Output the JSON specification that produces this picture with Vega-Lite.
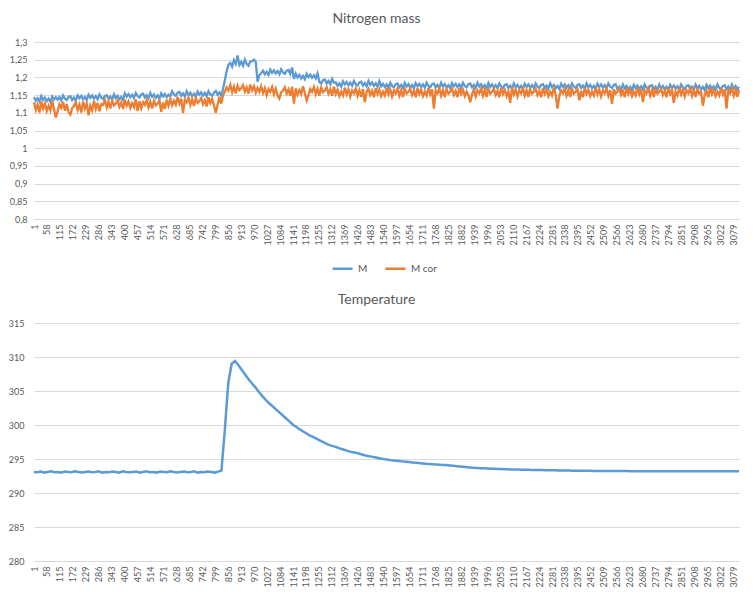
{
"$schema": "https://vega.github.io/schema/vega-lite/v6.json",
"padding": {"top": 12, "left": 4, "right": 10, "bottom": 4},
"background": "white",
"spacing": 48,
"config": {
  "font": "Lato",
  "view": {"stroke": null},
  "axis": {"labelFont": "Lato", "labelColor": "#595959", "labelFontSize": 9, "gridColor": "#D9D9D9", "gridWidth": 1, "ticks": false, "title": null},
  "title": {"font": "Lato", "fontSize": 14, "fontWeight": "normal", "color": "#595959", "offset": 12, "anchor": "middle", "dx": -10}
},
"datasets": {
"m": [
{"x":1,"M":1.145,"M cor":1.130},{"x":9,"M":1.134,"M cor":1.108},{"x":17,"M":1.141,"M cor":1.123},{"x":25,"M":1.132,"M cor":1.101},{"x":33,"M":1.147,"M cor":1.132},
{"x":41,"M":1.136,"M cor":1.112},{"x":49,"M":1.143,"M cor":1.126},{"x":57,"M":1.133,"M cor":1.105},{"x":65,"M":1.140,"M cor":1.120},{"x":73,"M":1.131,"M cor":1.107},
{"x":81,"M":1.146,"M cor":1.134},{"x":89,"M":1.137,"M cor":1.111},{"x":97,"M":1.144,"M cor":1.087},{"x":105,"M":1.137,"M cor":1.104},{"x":113,"M":1.144,"M cor":1.124},
{"x":121,"M":1.135,"M cor":1.114},{"x":129,"M":1.149,"M cor":1.131},{"x":137,"M":1.140,"M cor":1.106},{"x":145,"M":1.136,"M cor":1.125},{"x":153,"M":1.145,"M cor":1.102},
{"x":161,"M":1.147,"M cor":1.095},{"x":169,"M":1.136,"M cor":1.113},{"x":177,"M":1.143,"M cor":1.119},{"x":185,"M":1.134,"M cor":1.130},{"x":193,"M":1.149,"M cor":1.108},
{"x":201,"M":1.141,"M cor":1.123},{"x":209,"M":1.148,"M cor":1.101},{"x":217,"M":1.138,"M cor":1.132},{"x":225,"M":1.145,"M cor":1.112},{"x":233,"M":1.136,"M cor":1.126},
{"x":241,"M":1.151,"M cor":1.093},{"x":249,"M":1.142,"M cor":1.120},{"x":257,"M":1.149,"M cor":1.107},{"x":265,"M":1.140,"M cor":1.134},{"x":273,"M":1.147,"M cor":1.111},
{"x":281,"M":1.138,"M cor":1.128},{"x":289,"M":1.152,"M cor":1.104},{"x":297,"M":1.143,"M cor":1.124},{"x":305,"M":1.139,"M cor":1.122},{"x":313,"M":1.148,"M cor":1.136},
{"x":321,"M":1.150,"M cor":1.115},{"x":329,"M":1.139,"M cor":1.131},{"x":337,"M":1.146,"M cor":1.112},{"x":345,"M":1.137,"M cor":1.134},{"x":353,"M":1.152,"M cor":1.121},
{"x":361,"M":1.141,"M cor":1.126},{"x":369,"M":1.148,"M cor":1.135},{"x":377,"M":1.138,"M cor":1.117},{"x":385,"M":1.145,"M cor":1.129},{"x":393,"M":1.136,"M cor":1.111},
{"x":401,"M":1.155,"M cor":1.137},{"x":409,"M":1.146,"M cor":1.120},{"x":417,"M":1.153,"M cor":1.132},{"x":425,"M":1.144,"M cor":1.114},{"x":433,"M":1.151,"M cor":1.127},
{"x":441,"M":1.142,"M cor":1.116},{"x":449,"M":1.156,"M cor":1.138},{"x":457,"M":1.147,"M cor":1.105},{"x":465,"M":1.143,"M cor":1.133},{"x":473,"M":1.152,"M cor":1.113},
{"x":481,"M":1.154,"M cor":1.130},{"x":489,"M":1.143,"M cor":1.122},{"x":497,"M":1.150,"M cor":1.136},{"x":505,"M":1.141,"M cor":1.115},{"x":513,"M":1.156,"M cor":1.131},
{"x":521,"M":1.145,"M cor":1.112},{"x":529,"M":1.152,"M cor":1.134},{"x":537,"M":1.142,"M cor":1.121},{"x":545,"M":1.149,"M cor":1.126},{"x":553,"M":1.140,"M cor":1.135},
{"x":561,"M":1.155,"M cor":1.103},{"x":569,"M":1.146,"M cor":1.129},{"x":577,"M":1.153,"M cor":1.111},{"x":585,"M":1.144,"M cor":1.137},{"x":593,"M":1.151,"M cor":1.120},
{"x":601,"M":1.147,"M cor":1.139},{"x":609,"M":1.161,"M cor":1.121},{"x":617,"M":1.152,"M cor":1.134},{"x":625,"M":1.148,"M cor":1.123},{"x":633,"M":1.157,"M cor":1.145},
{"x":641,"M":1.159,"M cor":1.126},{"x":649,"M":1.148,"M cor":1.140},{"x":657,"M":1.155,"M cor":1.100},{"x":665,"M":1.146,"M cor":1.137},{"x":673,"M":1.161,"M cor":1.129},
{"x":681,"M":1.150,"M cor":1.143},{"x":689,"M":1.157,"M cor":1.122},{"x":697,"M":1.147,"M cor":1.138},{"x":705,"M":1.154,"M cor":1.119},{"x":713,"M":1.145,"M cor":1.141},
{"x":721,"M":1.160,"M cor":1.128},{"x":729,"M":1.151,"M cor":1.133},{"x":737,"M":1.158,"M cor":1.142},{"x":745,"M":1.149,"M cor":1.124},{"x":753,"M":1.156,"M cor":1.136},
{"x":761,"M":1.147,"M cor":1.118},{"x":769,"M":1.161,"M cor":1.144},{"x":777,"M":1.152,"M cor":1.127},{"x":785,"M":1.148,"M cor":1.139},{"x":793,"M":1.157,"M cor":1.121},
{"x":801,"M":1.162,"M cor":1.100},{"x":809,"M":1.151,"M cor":1.123},{"x":817,"M":1.158,"M cor":1.145},{"x":825,"M":1.149,"M cor":1.126},{"x":833,"M":1.168,"M cor":1.148},
{"x":841,"M":1.192,"M cor":1.160},{"x":849,"M":1.218,"M cor":1.172},{"x":857,"M":1.236,"M cor":1.163},{"x":865,"M":1.241,"M cor":1.179},{"x":873,"M":1.230,"M cor":1.158},
{"x":881,"M":1.249,"M cor":1.174},{"x":889,"M":1.238,"M cor":1.155},{"x":897,"M":1.262,"M cor":1.177},{"x":905,"M":1.235,"M cor":1.164},{"x":913,"M":1.244,"M cor":1.169},
{"x":921,"M":1.233,"M cor":1.178},{"x":929,"M":1.250,"M cor":1.160},{"x":937,"M":1.238,"M cor":1.172},{"x":945,"M":1.233,"M cor":1.154},{"x":953,"M":1.245,"M cor":1.180},
{"x":961,"M":1.246,"M cor":1.163},{"x":969,"M":1.250,"M cor":1.175},{"x":977,"M":1.244,"M cor":1.157},{"x":985,"M":1.188,"M cor":1.170},{"x":993,"M":1.206,"M cor":1.159},
{"x":1001,"M":1.212,"M cor":1.175},{"x":1009,"M":1.219,"M cor":1.156},{"x":1017,"M":1.209,"M cor":1.170},{"x":1025,"M":1.216,"M cor":1.150},{"x":1033,"M":1.207,"M cor":1.167},
{"x":1041,"M":1.222,"M cor":1.159},{"x":1049,"M":1.213,"M cor":1.173},{"x":1057,"M":1.220,"M cor":1.152},{"x":1065,"M":1.211,"M cor":1.168},{"x":1073,"M":1.218,"M cor":1.149},
{"x":1081,"M":1.209,"M cor":1.140},{"x":1089,"M":1.223,"M cor":1.158},{"x":1097,"M":1.214,"M cor":1.163},{"x":1105,"M":1.210,"M cor":1.172},{"x":1113,"M":1.219,"M cor":1.154},
{"x":1121,"M":1.221,"M cor":1.166},{"x":1129,"M":1.210,"M cor":1.148},{"x":1137,"M":1.228,"M cor":1.174},{"x":1145,"M":1.196,"M cor":1.126},{"x":1153,"M":1.211,"M cor":1.169},
{"x":1161,"M":1.200,"M cor":1.151},{"x":1169,"M":1.207,"M cor":1.164},{"x":1177,"M":1.197,"M cor":1.153},{"x":1185,"M":1.204,"M cor":1.175},{"x":1193,"M":1.195,"M cor":1.156},
{"x":1201,"M":1.210,"M cor":1.135},{"x":1209,"M":1.201,"M cor":1.150},{"x":1217,"M":1.208,"M cor":1.167},{"x":1225,"M":1.199,"M cor":1.159},{"x":1233,"M":1.206,"M cor":1.173},
{"x":1241,"M":1.197,"M cor":1.152},{"x":1249,"M":1.211,"M cor":1.168},{"x":1257,"M":1.187,"M cor":1.149},{"x":1265,"M":1.183,"M cor":1.171},{"x":1273,"M":1.192,"M cor":1.158},
{"x":1281,"M":1.194,"M cor":1.163},{"x":1289,"M":1.183,"M cor":1.172},{"x":1297,"M":1.190,"M cor":1.154},{"x":1305,"M":1.181,"M cor":1.166},{"x":1313,"M":1.196,"M cor":1.148},
{"x":1321,"M":1.185,"M cor":1.174},{"x":1329,"M":1.186,"M cor":1.153},{"x":1337,"M":1.176,"M cor":1.165},{"x":1345,"M":1.183,"M cor":1.147},{"x":1353,"M":1.174,"M cor":1.160},
{"x":1361,"M":1.189,"M cor":1.149},{"x":1369,"M":1.180,"M cor":1.171},{"x":1377,"M":1.187,"M cor":1.152},{"x":1385,"M":1.178,"M cor":1.166},{"x":1393,"M":1.185,"M cor":1.146},
{"x":1401,"M":1.176,"M cor":1.163},{"x":1409,"M":1.190,"M cor":1.155},{"x":1417,"M":1.181,"M cor":1.169},{"x":1425,"M":1.177,"M cor":1.148},{"x":1433,"M":1.186,"M cor":1.164},
{"x":1441,"M":1.188,"M cor":1.145},{"x":1449,"M":1.177,"M cor":1.167},{"x":1457,"M":1.184,"M cor":1.130},{"x":1465,"M":1.175,"M cor":1.159},{"x":1473,"M":1.190,"M cor":1.168},
{"x":1481,"M":1.179,"M cor":1.150},{"x":1489,"M":1.186,"M cor":1.162},{"x":1497,"M":1.176,"M cor":1.144},{"x":1505,"M":1.183,"M cor":1.170},{"x":1513,"M":1.174,"M cor":1.153},
{"x":1521,"M":1.189,"M cor":1.165},{"x":1529,"M":1.175,"M cor":1.147},{"x":1537,"M":1.182,"M cor":1.160},{"x":1545,"M":1.173,"M cor":1.149},{"x":1553,"M":1.180,"M cor":1.171},
{"x":1561,"M":1.171,"M cor":1.152},{"x":1569,"M":1.185,"M cor":1.166},{"x":1577,"M":1.176,"M cor":1.146},{"x":1585,"M":1.172,"M cor":1.163},{"x":1593,"M":1.181,"M cor":1.155},
{"x":1601,"M":1.183,"M cor":1.169},{"x":1609,"M":1.172,"M cor":1.148},{"x":1617,"M":1.179,"M cor":1.164},{"x":1625,"M":1.170,"M cor":1.145},{"x":1633,"M":1.185,"M cor":1.167},
{"x":1641,"M":1.174,"M cor":1.154},{"x":1649,"M":1.181,"M cor":1.159},{"x":1657,"M":1.171,"M cor":1.168},{"x":1665,"M":1.178,"M cor":1.150},{"x":1673,"M":1.169,"M cor":1.162},
{"x":1681,"M":1.184,"M cor":1.144},{"x":1689,"M":1.175,"M cor":1.170},{"x":1697,"M":1.182,"M cor":1.153},{"x":1705,"M":1.173,"M cor":1.165},{"x":1713,"M":1.180,"M cor":1.147},
{"x":1721,"M":1.171,"M cor":1.160},{"x":1729,"M":1.185,"M cor":1.149},{"x":1737,"M":1.176,"M cor":1.171},{"x":1745,"M":1.172,"M cor":1.152},{"x":1753,"M":1.181,"M cor":1.166},
{"x":1761,"M":1.183,"M cor":1.112},{"x":1769,"M":1.172,"M cor":1.163},{"x":1777,"M":1.179,"M cor":1.155},{"x":1785,"M":1.170,"M cor":1.169},{"x":1793,"M":1.185,"M cor":1.148},
{"x":1801,"M":1.174,"M cor":1.164},{"x":1809,"M":1.181,"M cor":1.145},{"x":1817,"M":1.171,"M cor":1.167},{"x":1825,"M":1.178,"M cor":1.154},{"x":1833,"M":1.169,"M cor":1.159},
{"x":1841,"M":1.184,"M cor":1.168},{"x":1849,"M":1.175,"M cor":1.150},{"x":1857,"M":1.182,"M cor":1.162},{"x":1865,"M":1.173,"M cor":1.144},{"x":1873,"M":1.180,"M cor":1.170},
{"x":1881,"M":1.171,"M cor":1.153},{"x":1889,"M":1.185,"M cor":1.165},{"x":1897,"M":1.176,"M cor":1.147},{"x":1905,"M":1.172,"M cor":1.160},{"x":1913,"M":1.181,"M cor":1.149},
{"x":1921,"M":1.183,"M cor":1.130},{"x":1929,"M":1.172,"M cor":1.152},{"x":1937,"M":1.179,"M cor":1.166},{"x":1945,"M":1.170,"M cor":1.146},{"x":1953,"M":1.185,"M cor":1.163},
{"x":1961,"M":1.174,"M cor":1.155},{"x":1969,"M":1.181,"M cor":1.169},{"x":1977,"M":1.171,"M cor":1.148},{"x":1985,"M":1.178,"M cor":1.164},{"x":1993,"M":1.169,"M cor":1.145},
{"x":2001,"M":1.184,"M cor":1.167},{"x":2009,"M":1.173,"M cor":1.154},{"x":2017,"M":1.180,"M cor":1.159},{"x":2025,"M":1.171,"M cor":1.168},{"x":2033,"M":1.178,"M cor":1.150},
{"x":2041,"M":1.169,"M cor":1.162},{"x":2049,"M":1.183,"M cor":1.144},{"x":2057,"M":1.174,"M cor":1.170},{"x":2065,"M":1.170,"M cor":1.153},{"x":2073,"M":1.179,"M cor":1.165},
{"x":2081,"M":1.181,"M cor":1.147},{"x":2089,"M":1.170,"M cor":1.160},{"x":2097,"M":1.177,"M cor":1.128},{"x":2105,"M":1.168,"M cor":1.171},{"x":2113,"M":1.183,"M cor":1.152},
{"x":2121,"M":1.172,"M cor":1.166},{"x":2129,"M":1.179,"M cor":1.146},{"x":2137,"M":1.169,"M cor":1.163},{"x":2145,"M":1.176,"M cor":1.155},{"x":2153,"M":1.167,"M cor":1.169},
{"x":2161,"M":1.182,"M cor":1.148},{"x":2169,"M":1.173,"M cor":1.164},{"x":2177,"M":1.180,"M cor":1.145},{"x":2185,"M":1.171,"M cor":1.167},{"x":2193,"M":1.178,"M cor":1.154},
{"x":2201,"M":1.169,"M cor":1.159},{"x":2209,"M":1.183,"M cor":1.168},{"x":2217,"M":1.174,"M cor":1.150},{"x":2225,"M":1.170,"M cor":1.162},{"x":2233,"M":1.179,"M cor":1.144},
{"x":2241,"M":1.181,"M cor":1.170},{"x":2249,"M":1.170,"M cor":1.153},{"x":2257,"M":1.177,"M cor":1.165},{"x":2265,"M":1.168,"M cor":1.147},{"x":2273,"M":1.183,"M cor":1.160},
{"x":2281,"M":1.172,"M cor":1.149},{"x":2289,"M":1.179,"M cor":1.171},{"x":2297,"M":1.169,"M cor":1.152},{"x":2305,"M":1.176,"M cor":1.112},{"x":2313,"M":1.167,"M cor":1.146},
{"x":2321,"M":1.182,"M cor":1.163},{"x":2329,"M":1.173,"M cor":1.155},{"x":2337,"M":1.180,"M cor":1.169},{"x":2345,"M":1.171,"M cor":1.148},{"x":2353,"M":1.178,"M cor":1.164},
{"x":2361,"M":1.169,"M cor":1.145},{"x":2369,"M":1.183,"M cor":1.167},{"x":2377,"M":1.174,"M cor":1.154},{"x":2385,"M":1.170,"M cor":1.159},{"x":2393,"M":1.179,"M cor":1.168},
{"x":2401,"M":1.181,"M cor":1.135},{"x":2409,"M":1.170,"M cor":1.162},{"x":2417,"M":1.177,"M cor":1.144},{"x":2425,"M":1.168,"M cor":1.170},{"x":2433,"M":1.183,"M cor":1.153},
{"x":2441,"M":1.172,"M cor":1.165},{"x":2449,"M":1.179,"M cor":1.147},{"x":2457,"M":1.169,"M cor":1.160},{"x":2465,"M":1.176,"M cor":1.149},{"x":2473,"M":1.167,"M cor":1.171},
{"x":2481,"M":1.182,"M cor":1.152},{"x":2489,"M":1.173,"M cor":1.166},{"x":2497,"M":1.180,"M cor":1.146},{"x":2505,"M":1.171,"M cor":1.163},{"x":2513,"M":1.178,"M cor":1.155},
{"x":2521,"M":1.169,"M cor":1.169},{"x":2529,"M":1.183,"M cor":1.148},{"x":2537,"M":1.174,"M cor":1.164},{"x":2545,"M":1.170,"M cor":1.125},{"x":2553,"M":1.179,"M cor":1.167},
{"x":2561,"M":1.181,"M cor":1.154},{"x":2569,"M":1.167,"M cor":1.159},{"x":2577,"M":1.174,"M cor":1.168},{"x":2585,"M":1.165,"M cor":1.150},{"x":2593,"M":1.180,"M cor":1.162},
{"x":2601,"M":1.169,"M cor":1.144},{"x":2609,"M":1.176,"M cor":1.170},{"x":2617,"M":1.166,"M cor":1.153},{"x":2625,"M":1.173,"M cor":1.165},{"x":2633,"M":1.164,"M cor":1.147},
{"x":2641,"M":1.179,"M cor":1.160},{"x":2649,"M":1.170,"M cor":1.149},{"x":2657,"M":1.177,"M cor":1.171},{"x":2665,"M":1.168,"M cor":1.152},{"x":2673,"M":1.175,"M cor":1.166},
{"x":2681,"M":1.166,"M cor":1.130},{"x":2689,"M":1.180,"M cor":1.163},{"x":2697,"M":1.171,"M cor":1.155},{"x":2705,"M":1.167,"M cor":1.169},{"x":2713,"M":1.176,"M cor":1.148},
{"x":2721,"M":1.178,"M cor":1.164},{"x":2729,"M":1.167,"M cor":1.145},{"x":2737,"M":1.174,"M cor":1.167},{"x":2745,"M":1.165,"M cor":1.154},{"x":2753,"M":1.180,"M cor":1.159},
{"x":2761,"M":1.169,"M cor":1.168},{"x":2769,"M":1.176,"M cor":1.150},{"x":2777,"M":1.166,"M cor":1.162},{"x":2785,"M":1.173,"M cor":1.144},{"x":2793,"M":1.164,"M cor":1.170},
{"x":2801,"M":1.179,"M cor":1.153},{"x":2809,"M":1.170,"M cor":1.165},{"x":2817,"M":1.177,"M cor":1.128},{"x":2825,"M":1.168,"M cor":1.160},{"x":2833,"M":1.175,"M cor":1.149},
{"x":2841,"M":1.166,"M cor":1.171},{"x":2849,"M":1.180,"M cor":1.152},{"x":2857,"M":1.171,"M cor":1.166},{"x":2865,"M":1.167,"M cor":1.146},{"x":2873,"M":1.176,"M cor":1.163},
{"x":2881,"M":1.178,"M cor":1.155},{"x":2889,"M":1.167,"M cor":1.169},{"x":2897,"M":1.174,"M cor":1.148},{"x":2905,"M":1.165,"M cor":1.164},{"x":2913,"M":1.180,"M cor":1.145},
{"x":2921,"M":1.169,"M cor":1.167},{"x":2929,"M":1.176,"M cor":1.154},{"x":2937,"M":1.166,"M cor":1.159},{"x":2945,"M":1.173,"M cor":1.120},{"x":2953,"M":1.164,"M cor":1.150},
{"x":2961,"M":1.179,"M cor":1.162},{"x":2969,"M":1.170,"M cor":1.144},{"x":2977,"M":1.177,"M cor":1.170},{"x":2985,"M":1.168,"M cor":1.153},{"x":2993,"M":1.175,"M cor":1.165},
{"x":3001,"M":1.166,"M cor":1.147},{"x":3009,"M":1.180,"M cor":1.160},{"x":3017,"M":1.171,"M cor":1.149},{"x":3025,"M":1.167,"M cor":1.171},{"x":3033,"M":1.176,"M cor":1.152},
{"x":3041,"M":1.178,"M cor":1.166},{"x":3049,"M":1.167,"M cor":1.112},{"x":3057,"M":1.174,"M cor":1.163},{"x":3065,"M":1.165,"M cor":1.155},{"x":3073,"M":1.180,"M cor":1.169},
{"x":3081,"M":1.169,"M cor":1.148},{"x":3089,"M":1.176,"M cor":1.164},{"x":3097,"M":1.166,"M cor":1.145},{"x":3104,"M":1.173,"M cor":1.165}
],
"t": [
{"x":1,"T":293.1},{"x":16,"T":293.05},{"x":31,"T":293.15},{"x":46,"T":293.0},{"x":61,"T":293.1},{"x":76,"T":293.2},{"x":91,"T":293.05},{"x":106,"T":293.1},{"x":121,"T":293.0},{"x":136,"T":293.15},
{"x":151,"T":293.1},{"x":166,"T":293.05},{"x":181,"T":293.2},{"x":196,"T":293.1},{"x":211,"T":293.0},{"x":226,"T":293.1},{"x":241,"T":293.15},{"x":256,"T":293.05},{"x":271,"T":293.1},{"x":286,"T":293.2},
{"x":301,"T":293.0},{"x":316,"T":293.1},{"x":331,"T":293.05},{"x":346,"T":293.15},{"x":361,"T":293.1},{"x":376,"T":293.0},{"x":391,"T":293.2},{"x":406,"T":293.1},{"x":421,"T":293.05},{"x":436,"T":293.1},
{"x":451,"T":293.15},{"x":466,"T":293.0},{"x":481,"T":293.1},{"x":496,"T":293.2},{"x":511,"T":293.05},{"x":526,"T":293.1},{"x":541,"T":293.0},{"x":556,"T":293.15},{"x":571,"T":293.1},{"x":586,"T":293.05},
{"x":601,"T":293.2},{"x":616,"T":293.1},{"x":631,"T":293.0},{"x":646,"T":293.1},{"x":661,"T":293.15},{"x":676,"T":293.05},{"x":691,"T":293.1},{"x":706,"T":293.2},{"x":721,"T":293.0},{"x":736,"T":293.1},
{"x":751,"T":293.05},{"x":766,"T":293.15},{"x":781,"T":293.1},{"x":796,"T":293.0},{"x":811,"T":293.15},{"x":826,"T":293.3},{"x":841,"T":299.3},{"x":856,"T":306.2},{"x":871,"T":309.0},{"x":886,"T":309.4},
{"x":901,"T":308.8},{"x":916,"T":308.1},{"x":931,"T":307.4},{"x":946,"T":306.7},{"x":961,"T":306.1},{"x":976,"T":305.5},{"x":991,"T":304.85},{"x":1006,"T":304.25},{"x":1021,"T":303.7},{"x":1036,"T":303.2},
{"x":1051,"T":302.75},{"x":1066,"T":302.3},{"x":1081,"T":301.85},{"x":1096,"T":301.4},{"x":1111,"T":300.95},{"x":1126,"T":300.5},{"x":1141,"T":300.05},{"x":1156,"T":299.7},{"x":1171,"T":299.35},{"x":1186,"T":299.05},
{"x":1201,"T":298.75},{"x":1216,"T":298.45},{"x":1231,"T":298.2},{"x":1246,"T":297.95},{"x":1261,"T":297.7},{"x":1276,"T":297.45},{"x":1291,"T":297.2},{"x":1306,"T":297.0},{"x":1321,"T":296.85},{"x":1336,"T":296.7},
{"x":1351,"T":296.5},{"x":1366,"T":296.35},{"x":1381,"T":296.2},{"x":1396,"T":296.05},{"x":1411,"T":295.95},{"x":1426,"T":295.85},{"x":1441,"T":295.7},{"x":1456,"T":295.55},{"x":1471,"T":295.45},{"x":1486,"T":295.35},
{"x":1501,"T":295.25},{"x":1516,"T":295.15},{"x":1531,"T":295.05},{"x":1546,"T":294.95},{"x":1561,"T":294.9},{"x":1576,"T":294.8},{"x":1591,"T":294.75},{"x":1606,"T":294.7},{"x":1621,"T":294.65},{"x":1636,"T":294.6},
{"x":1651,"T":294.55},{"x":1666,"T":294.5},{"x":1681,"T":294.45},{"x":1696,"T":294.4},{"x":1711,"T":294.35},{"x":1726,"T":294.3},{"x":1741,"T":294.27},{"x":1756,"T":294.23},{"x":1771,"T":294.2},{"x":1786,"T":294.17},
{"x":1801,"T":294.13},{"x":1816,"T":294.1},{"x":1831,"T":294.05},{"x":1846,"T":294.0},{"x":1861,"T":293.95},{"x":1876,"T":293.9},{"x":1891,"T":293.85},{"x":1906,"T":293.8},{"x":1921,"T":293.75},{"x":1936,"T":293.7},
{"x":1951,"T":293.68},{"x":1966,"T":293.65},{"x":1981,"T":293.63},{"x":1996,"T":293.6},{"x":2011,"T":293.58},{"x":2026,"T":293.56},{"x":2041,"T":293.54},{"x":2056,"T":293.52},{"x":2071,"T":293.5},{"x":2086,"T":293.48},
{"x":2101,"T":293.47},{"x":2116,"T":293.45},{"x":2131,"T":293.44},{"x":2146,"T":293.43},{"x":2161,"T":293.42},{"x":2176,"T":293.41},{"x":2191,"T":293.4},{"x":2206,"T":293.39},{"x":2221,"T":293.38},{"x":2236,"T":293.37},
{"x":2251,"T":293.36},{"x":2266,"T":293.35},{"x":2281,"T":293.34},{"x":2296,"T":293.33},{"x":2311,"T":293.32},{"x":2326,"T":293.31},{"x":2341,"T":293.3},{"x":2356,"T":293.3},{"x":2371,"T":293.29},{"x":2386,"T":293.28},
{"x":2401,"T":293.27},{"x":2416,"T":293.27},{"x":2431,"T":293.26},{"x":2446,"T":293.26},{"x":2461,"T":293.25},{"x":2476,"T":293.25},{"x":2491,"T":293.24},{"x":2506,"T":293.24},{"x":2521,"T":293.24},{"x":2536,"T":293.23},
{"x":2551,"T":293.23},{"x":2566,"T":293.22},{"x":2581,"T":293.22},{"x":2596,"T":293.22},{"x":2611,"T":293.22},{"x":2626,"T":293.21},{"x":2641,"T":293.21},{"x":2656,"T":293.21},{"x":2671,"T":293.21},{"x":2686,"T":293.21},
{"x":2701,"T":293.2},{"x":2716,"T":293.2},{"x":2731,"T":293.2},{"x":2746,"T":293.2},{"x":2761,"T":293.2},{"x":2776,"T":293.2},{"x":2791,"T":293.2},{"x":2806,"T":293.2},{"x":2821,"T":293.2},{"x":2836,"T":293.2},
{"x":2851,"T":293.2},{"x":2866,"T":293.2},{"x":2881,"T":293.2},{"x":2896,"T":293.2},{"x":2911,"T":293.2},{"x":2926,"T":293.2},{"x":2941,"T":293.2},{"x":2956,"T":293.2},{"x":2971,"T":293.2},{"x":2986,"T":293.2},
{"x":3001,"T":293.2},{"x":3016,"T":293.2},{"x":3031,"T":293.2},{"x":3046,"T":293.2},{"x":3061,"T":293.2},{"x":3076,"T":293.2},{"x":3091,"T":293.2},{"x":3104,"T":293.2}
]
},
"vconcat": [
{
  "width": 705, "height": 177,
  "title": {"text": "Nitrogen mass"},
  "data": {"name": "m"},
  "transform": [{"fold": ["M", "M cor"], "as": ["series", "value"]}],
  "mark": {"type": "line", "strokeWidth": 2.3},
  "encoding": {
    "x": {"field": "x", "type": "quantitative",
      "scale": {"domain": [1, 3104], "nice": false, "zero": false},
      "axis": {"values": [1,58,115,172,229,286,343,400,457,514,571,628,685,742,799,856,913,970,1027,1084,1141,1198,1255,1312,1369,1426,1483,1540,1597,1654,1711,1768,1825,1882,1939,1996,2053,2110,2167,2224,2281,2338,2395,2452,2509,2566,2623,2680,2737,2794,2851,2908,2965,3022,3079],
        "format": "d", "labelAngle": -90, "labelOverlap": false, "grid": false, "domainColor": "#D9D9D9", "labelPadding": 5, "labelBound": false, "labelFlush": false}},
    "y": {"field": "value", "type": "quantitative",
      "scale": {"domain": [0.8, 1.3], "nice": false, "zero": false},
      "axis": {"values": [0.8,0.85,0.9,0.95,1,1.05,1.1,1.15,1.2,1.25,1.3], "labelExpr": "replace(toString(datum.value), '.', ',')", "domain": false, "labelPadding": 7, "minExtent": 30, "maxExtent": 30}},
    "color": {"field": "series", "type": "nominal",
      "scale": {"domain": ["M", "M cor"], "range": ["#5B9BD5", "#ED7D31"]},
      "legend": {"orient": "none", "legendX": 297, "legendY": 215, "direction": "horizontal", "title": null, "symbolType": "stroke", "symbolStrokeWidth": 2.5, "symbolSize": 400, "labelFont": "Lato", "labelFontSize": 10, "labelColor": "#595959", "columnPadding": 12}}
  }
},
{
  "width": 705, "height": 238,
  "title": {"text": "Temperature"},
  "data": {"name": "t"},
  "mark": {"type": "line", "strokeWidth": 2.5, "color": "#5B9BD5"},
  "encoding": {
    "x": {"field": "x", "type": "quantitative",
      "scale": {"domain": [1, 3104], "nice": false, "zero": false},
      "axis": {"values": [1,58,115,172,229,286,343,400,457,514,571,628,685,742,799,856,913,970,1027,1084,1141,1198,1255,1312,1369,1426,1483,1540,1597,1654,1711,1768,1825,1882,1939,1996,2053,2110,2167,2224,2281,2338,2395,2452,2509,2566,2623,2680,2737,2794,2851,2908,2965,3022,3079],
        "format": "d", "labelAngle": -90, "labelOverlap": false, "grid": false, "domainColor": "#D9D9D9", "labelPadding": 5, "labelBound": false, "labelFlush": false}},
    "y": {"field": "T", "type": "quantitative",
      "scale": {"domain": [280, 315], "nice": false, "zero": false},
      "axis": {"values": [280,285,290,295,300,305,310,315], "domain": false, "labelPadding": 10, "minExtent": 30, "maxExtent": 30}}
  }
}
]
}
